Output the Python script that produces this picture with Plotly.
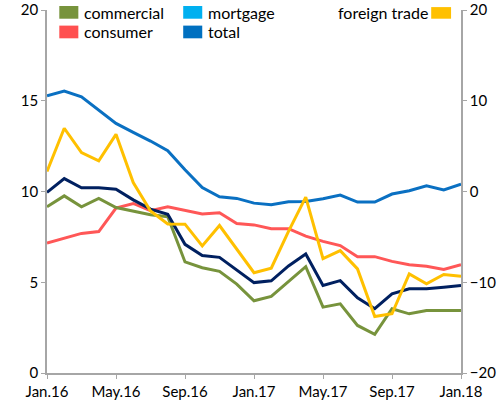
import plotly.graph_objects as go

# monthly data, Jan.16 .. Jan.18
months = ["Jan.16", "Feb.16", "Mar.16", "Apr.16", "May.16", "Jun.16", "Jul.16", "Aug.16",
          "Sep.16", "Oct.16", "Nov.16", "Dec.16", "Jan.17", "Feb.17", "Mar.17", "Apr.17",
          "May.17", "Jun.17", "Jul.17", "Aug.17", "Sep.17", "Oct.17", "Nov.17", "Dec.17", "Jan.18"]
tick_labels = ["Jan.16", "May.16", "Sep.16", "Jan.17", "May.17", "Sep.17", "Jan.18"]

commercial = [9.16, 9.76, 9.16, 9.62, 9.12, 8.94, 8.72, 8.61, 6.12, 5.80, 5.60, 4.90, 3.98, 4.22,
              5.02, 5.86, 3.63, 3.81, 2.62, 2.13, 3.54, 3.26, 3.44, 3.44, 3.44]
consumer = [7.16, 7.44, 7.69, 7.79, 9.09, 9.34, 8.94, 9.16, 8.98, 8.76, 8.83, 8.24, 8.16, 7.95,
            7.95, 7.54, 7.25, 7.02, 6.41, 6.41, 6.15, 5.96, 5.88, 5.70, 5.97]
mortgage = [15.27, 15.53, 15.22, 14.49, 13.75, 13.26, 12.78, 12.25, 11.2, 10.22, 9.71, 9.62, 9.36,
            9.27, 9.43, 9.45, 9.6, 9.8, 9.42, 9.42, 9.86, 10.04, 10.31, 10.09, 10.41]
total = [9.95, 10.71, 10.20, 10.20, 10.13, 9.54, 9.03, 8.74, 7.09, 6.47, 6.37, 5.68, 4.98, 5.08,
         5.90, 6.56, 4.82, 5.09, 4.14, 3.54, 4.36, 4.64, 4.64, 4.73, 4.82]
foreign_trade = [2.2, 6.97, 4.29, 3.37, 6.3, 0.99, -2.15, -3.58, -3.6, -6.0, -3.75, -6.4, -8.95,
                 -8.45, -4.4, -0.62, -7.4, -6.52, -8.53, -13.77, -13.47, -9.08, -10.18, -9.15, -9.34]

FONT = "Lato"
fig = go.Figure()

lines = [
    (mortgage, "mortgage", "#0A70C2", "y"),
    (consumer, "consumer", "#FF5757", "y"),
    (commercial, "commercial", "#77933C", "y"),
    (total, "total", "#002060", "y"),
    (foreign_trade, "foreign trade", "#FFC000", "y2"),
]
for vals, name, col, ax in lines:
    fig.add_trace(go.Scatter(x=months, y=vals, mode="lines", name=name, yaxis=ax,
                             line=dict(color=col, width=3), showlegend=False))

# hand built legend (swatch colours differ from line colours in the original)
legend_items = [
    ("commercial", "#77933C", 0.0297, 0.976),
    ("consumer", "#FF5050", 0.0297, 0.922),
    ("mortgage", "#00B0F0", 0.329, 0.976),
    ("total", "#0070C0", 0.329, 0.922),
]
for text, col, x0, y0 in legend_items:
    fig.add_shape(type="rect", xref="paper", yref="paper", x0=x0, x1=x0 + 0.046,
                  y0=y0, y1=y0 + 0.035, fillcolor=col, line_width=0)
    fig.add_annotation(text=text, xref="paper", yref="paper", x=x0 + 0.056, y=y0 + 0.0175,
                       xanchor="left", yanchor="middle", showarrow=False,
                       font=dict(family=FONT, size=16, color="#000000"))
fig.add_shape(type="rect", xref="paper", yref="paper", x0=0.928, x1=0.976,
              y0=0.976, y1=1.008, fillcolor="#FFC000", line_width=0)
fig.add_annotation(text="foreign trade", xref="paper", yref="paper", x=0.924, y=0.992,
                   xanchor="right", yanchor="middle", showarrow=False,
                   font=dict(family=FONT, size=16, color="#000000"))

axis_style = dict(showgrid=False, showline=True, linecolor="#A6A6A6", linewidth=1.5,
                  ticks="outside", ticklen=4, tickcolor="#A6A6A6", zeroline=False,
                  ticklabeloverflow="allow", automargin=False,
                  tickfont=dict(family=FONT, size=15, color="#000000"))
fig.update_layout(
    width=498, height=403,
    margin=dict(l=47, r=37, t=10, b=30),
    plot_bgcolor="white", paper_bgcolor="white",
    font=dict(family=FONT, size=16, color="#000000"),
    xaxis=dict(type="category", range=[0, 24], tickvals=tick_labels, ticktext=tick_labels,
               **axis_style),
    yaxis=dict(range=[0, 20], dtick=5, **axis_style),
    yaxis2=dict(range=[-20, 20], dtick=10, overlaying="y", side="right", **axis_style),
)

# drop the default page margin so the 498x403 figure sits flush in the window
fig.write_html("out.html", config={"displayModeBar": False},
               post_script="document.body.style.margin='0';document.body.style.overflow='hidden';")
